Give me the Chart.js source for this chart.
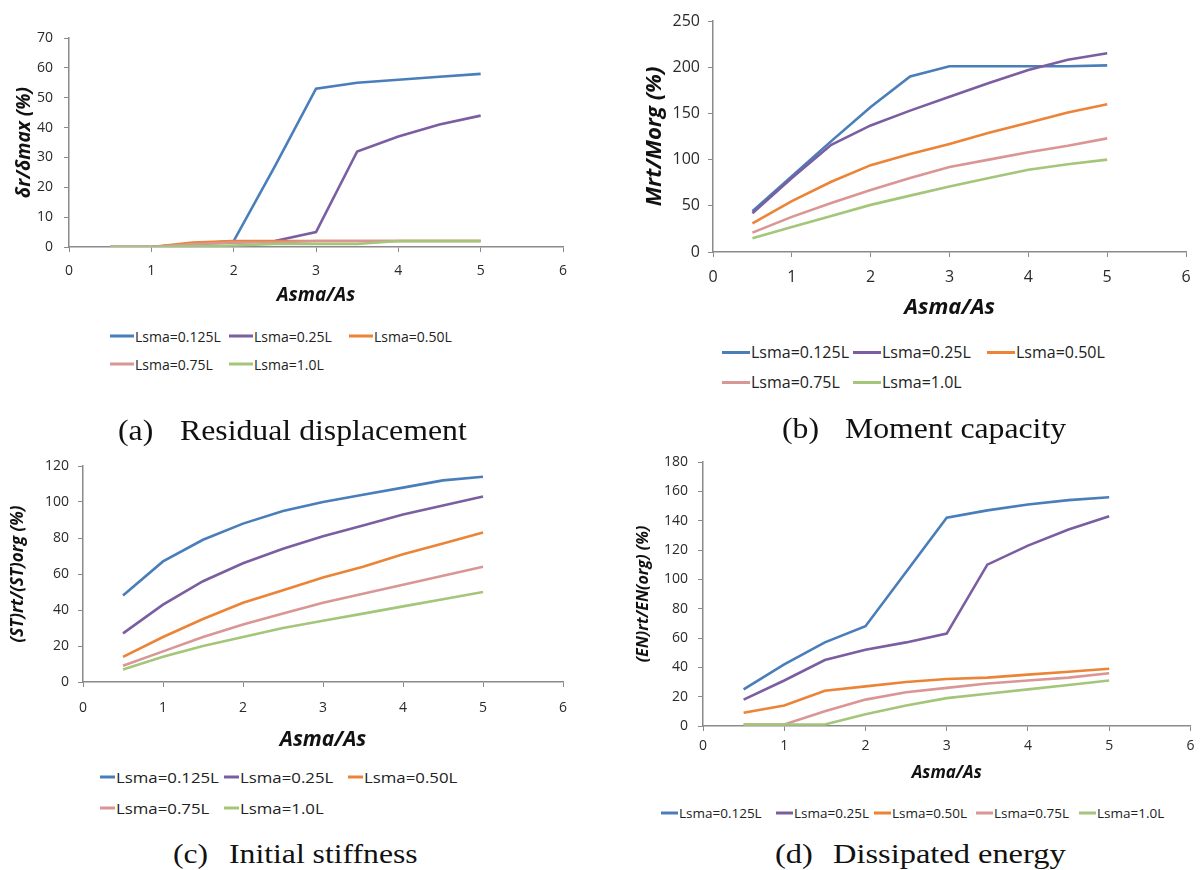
<!DOCTYPE html>
<html>
<head>
<meta charset="utf-8">
<title>SMA bar results</title>
<script src="https://cdn.jsdelivr.net/npm/chart.js@4.4.1/dist/chart.umd.min.js"></script>
<style>
  body { margin: 0; background: #fff; }
  #page { position: relative; width: 1201px; height: 870px; overflow: hidden; }
  canvas { position: absolute; }
  .item { position: absolute; display: flex; align-items: center; transform: translateY(-50%);
          font-family: "Open Sans", sans-serif; color: #222; white-space: nowrap; }
  .swatch { display: inline-block; height: 3px; margin-right: 1px; }
  .caption { position: absolute; font-family: "Liberation Serif", serif; color: #111;
             white-space: nowrap; margin-top: -0.6em; line-height: 1.2; transform-origin: left center; }
</style>
</head>
<body>
<div id="page">
  <canvas id="chartA"></canvas>
  <canvas id="chartB"></canvas>
  <canvas id="chartC"></canvas>
  <canvas id="chartD"></canvas>
</div>
<script>
// data

const asmaRatio = [0.5, 1, 1.5, 2, 2.5, 3, 3.5, 4, 4.5, 5];
const lsmaLabels = ['Lsma=0.125L', 'Lsma=0.25L', 'Lsma=0.50L', 'Lsma=0.75L', 'Lsma=1.0L'];
const lineColors = ['#4a7ebb', '#7b5ea1', '#ec8437', '#d99694', '#a4c67a'];

// (a) residual displacement
const residualDisp = [
    [0, 0, 1, 2, 27, 53, 55, 56, 57, 58],
    [0, 0, 1, 1.5, 2, 5, 32, 37, 41, 44],
    [0, 0, 1.5, 2, 2, 2, 2, 2, 2, 2],
    [0, 0, 1, 1.5, 1.5, 2, 2, 2, 2, 2],
    [0, 0, 0.3, 0.5, 1, 1, 1, 2, 2, 2]
];
// (b) moment capacity
const momentCap = [
    [44, 82, 120, 157, 190, 201, 201, 201, 201, 202],
    [42, 80, 116, 137, 153, 168, 183, 197, 208, 215],
    [31, 55, 76, 94, 106, 117, 129, 140, 151, 160],
    [21, 38, 53, 67, 80, 92, 100, 108, 115, 123],
    [15, 27, 39, 51, 61, 71, 80, 89, 95, 100]
];
// (c) initial stiffness
const initStiff = [
    [48, 67, 79, 88, 95, 100, 104, 108, 112, 114],
    [27, 43, 56, 66, 74, 81, 87, 93, 98, 103],
    [14, 25, 35, 44, 51, 58, 64, 71, 77, 83],
    [9, 17, 25, 32, 38, 44, 49, 54, 59, 64],
    [7, 14, 20, 25, 30, 34, 38, 42, 46, 50]
];
// (d) dissipated energy
const dissEnergy = [
    [25, 42, 57, 68, 105, 142, 147, 151, 154, 156],
    [18, 31, 45, 52, 57, 63, 110, 123, 134, 143],
    [9, 14, 24, 27, 30, 32, 33, 35, 37, 39],
    [1, 1, 10, 18, 23, 26, 29, 31, 33, 36],
    [1, 1, 1, 8, 14, 19, 22, 25, 28, 31]
];

const xRange = [0, 6, 1];          // min, max, step
const residualRange = [0, 70, 10];
const momentRange = [0, 250, 50];
const stiffRange = [0, 120, 20];
const energyRange = [0, 180, 20];

// panels

const axisGrey = '#8a8a8a';

function drawPanel(id, g, values, yRange, yTitle, f) {
    const canvas = document.getElementById(id);
    canvas.width = g.w;
    canvas.height = g.h;
    canvas.style.left = g.cx + 'px';
    canvas.style.top = g.cy + 'px';

    const lhY = f.yTitle * 1.2, lhX = f.xTitle * 1.2, lhT = f.tick * 1.2;
    const padL = g.ytX - lhY / 2 - 4 - g.cx;
    const yW = g.L - g.cx - padL;
    const xBottom = g.xtY + lhX / 2 + 4;
    const xH = xBottom - g.B;
    const tickFont = { family: '"Open Sans", sans-serif', size: f.tick };
    const titleFont = (s) => ({ family: '"Open Sans", sans-serif', size: s, weight: 'bold', style: 'italic', lineHeight: 1.2 });

    new Chart(canvas, {
        type: 'line',
        data: {
            datasets: values.map((v, i) => ({
                label: lsmaLabels[i],
                data: asmaRatio.map((x, j) => ({ x: x, y: v[j] })),
                borderColor: lineColors[i],
                borderWidth: 2.6,
                pointRadius: 0,
                tension: 0,
                fill: false,
                order: values.length - i
            }))
        },
        options: {
            responsive: false,
            animation: false,
            layout: { padding: { left: padL, top: g.T - g.cy, right: g.cx + g.w - g.R, bottom: g.cy + g.h - xBottom } },
            plugins: { legend: { display: false }, tooltip: { enabled: false } },
            scales: {
                x: {
                    type: 'linear', min: xRange[0], max: xRange[1],
                    afterFit: (s) => { s.height = xH; },
                    ticks: { stepSize: xRange[2], padding: g.xlY - lhT / 2 - g.B - 5, font: tickFont, color: '#2a2a2a' },
                    grid: { drawOnChartArea: false, drawTicks: true, tickLength: 5, color: axisGrey },
                    border: { color: axisGrey, width: 1.5 },
                    title: { display: true, text: 'Asma/As', font: titleFont(f.xTitle), color: '#111', padding: { top: 4, bottom: 4 } }
                },
                y: {
                    min: yRange[0], max: yRange[1],
                    afterFit: (s) => { s.width = yW; },
                    ticks: { stepSize: yRange[2], padding: g.yPad, font: tickFont, color: '#2a2a2a' },
                    grid: { drawOnChartArea: false, drawTicks: true, tickLength: 5, color: axisGrey },
                    border: { color: axisGrey, width: 1.5 },
                    title: { display: true, text: yTitle, font: titleFont(f.yTitle), color: '#111', padding: { top: 4, bottom: 4 } }
                }
            }
        }
    });
}

drawPanel('chartA', { cx: 0, cy: 0, w: 600, h: 320, L: 69, R: 563, T: 38, B: 247, ytX: 25, xlY: 271, xtY: 296, yPad: 11 },
    residualDisp, residualRange, 'δr/δmax (%)', { tick: 14, yTitle: 19, xTitle: 19 });
drawPanel('chartB', { cx: 600, cy: 0, w: 601, h: 330, L: 713, R: 1190, T: 21, B: 252, ytX: 655, xlY: 277, xtY: 308, yPad: 8 },
    momentCap, momentRange, 'Mrt/Morg (%)', { tick: 16, yTitle: 22, xTitle: 22 });
drawPanel('chartC', { cx: 0, cy: 440, w: 600, h: 320, L: 83, R: 563, T: 466, B: 682, ytX: 18, xlY: 708, xtY: 740, yPad: 9 },
    initStiff, stiffRange, '(ST)rt/(ST)org (%)', { tick: 14, yTitle: 17, xTitle: 21 });
drawPanel('chartD', { cx: 600, cy: 440, w: 601, h: 350, L: 703, R: 1193, T: 462, B: 726, ytX: 643, xlY: 746, xtY: 773, yPad: 10 },
    dissEnergy, energyRange, '(EN)rt/EN(org) (%)', { tick: 14, yTitle: 16, xTitle: 17 });

// legends

const page = document.getElementById('page');

function legend(cols, rows, perRow, size, swatchW, stretch) {
    lsmaLabels.forEach((lab, i) => {
        const el = document.createElement('div');
        el.className = 'item';
        el.style.left = cols[i % perRow] + 'px';
        el.style.top = rows[Math.floor(i / perRow)] + 'px';
        el.style.fontSize = size + 'px';
        const sw = document.createElement('span');
        sw.className = 'swatch';
        sw.style.width = swatchW + 'px';
        sw.style.background = lineColors[i];
        const t = document.createElement('span');
        t.textContent = lab;
        if (stretch) { t.style.display = 'inline-block'; t.style.transform = 'scaleX(' + stretch + ')'; t.style.transformOrigin = 'left center'; }
        el.appendChild(sw);
        el.appendChild(t);
        page.appendChild(el);
    });
}

legend([110, 229, 349], [336, 364], 3, 14, 24);
legend([722, 853, 987], [352, 382], 3, 16, 28);
legend([100, 224, 348], [777, 808], 3, 14, 15, 1.2);
legend([661, 776, 874, 976, 1079], [813], 5, 12.5, 17, 1.08);

// captions, stretched so the text ends where the reference does

function caption(tag, text, x1, x2, xEnd, y, size) {
    const els = [[tag, x1], [text, x2]].map(([s, x]) => {
        const el = document.createElement('div');
        el.className = 'caption';
        el.textContent = s;
        el.style.left = x + 'px';
        el.style.top = y + 'px';
        el.style.fontSize = size + 'px';
        page.appendChild(el);
        return el;
    });
    const k = (xEnd - x2) / els[1].offsetWidth;
    els.forEach(el => { el.style.transform = 'scaleX(' + k + ')'; });
}

caption('(a)', 'Residual displacement', 118, 180, 467, 430, 30);
caption('(b)', 'Moment capacity', 782, 845, 1066, 428, 30);
caption('(c)', 'Initial stiffness', 173, 229, 418, 854, 27);
caption('(d)', 'Dissipated energy', 775, 833, 1066, 854, 27);
</script>
</body>
</html>
